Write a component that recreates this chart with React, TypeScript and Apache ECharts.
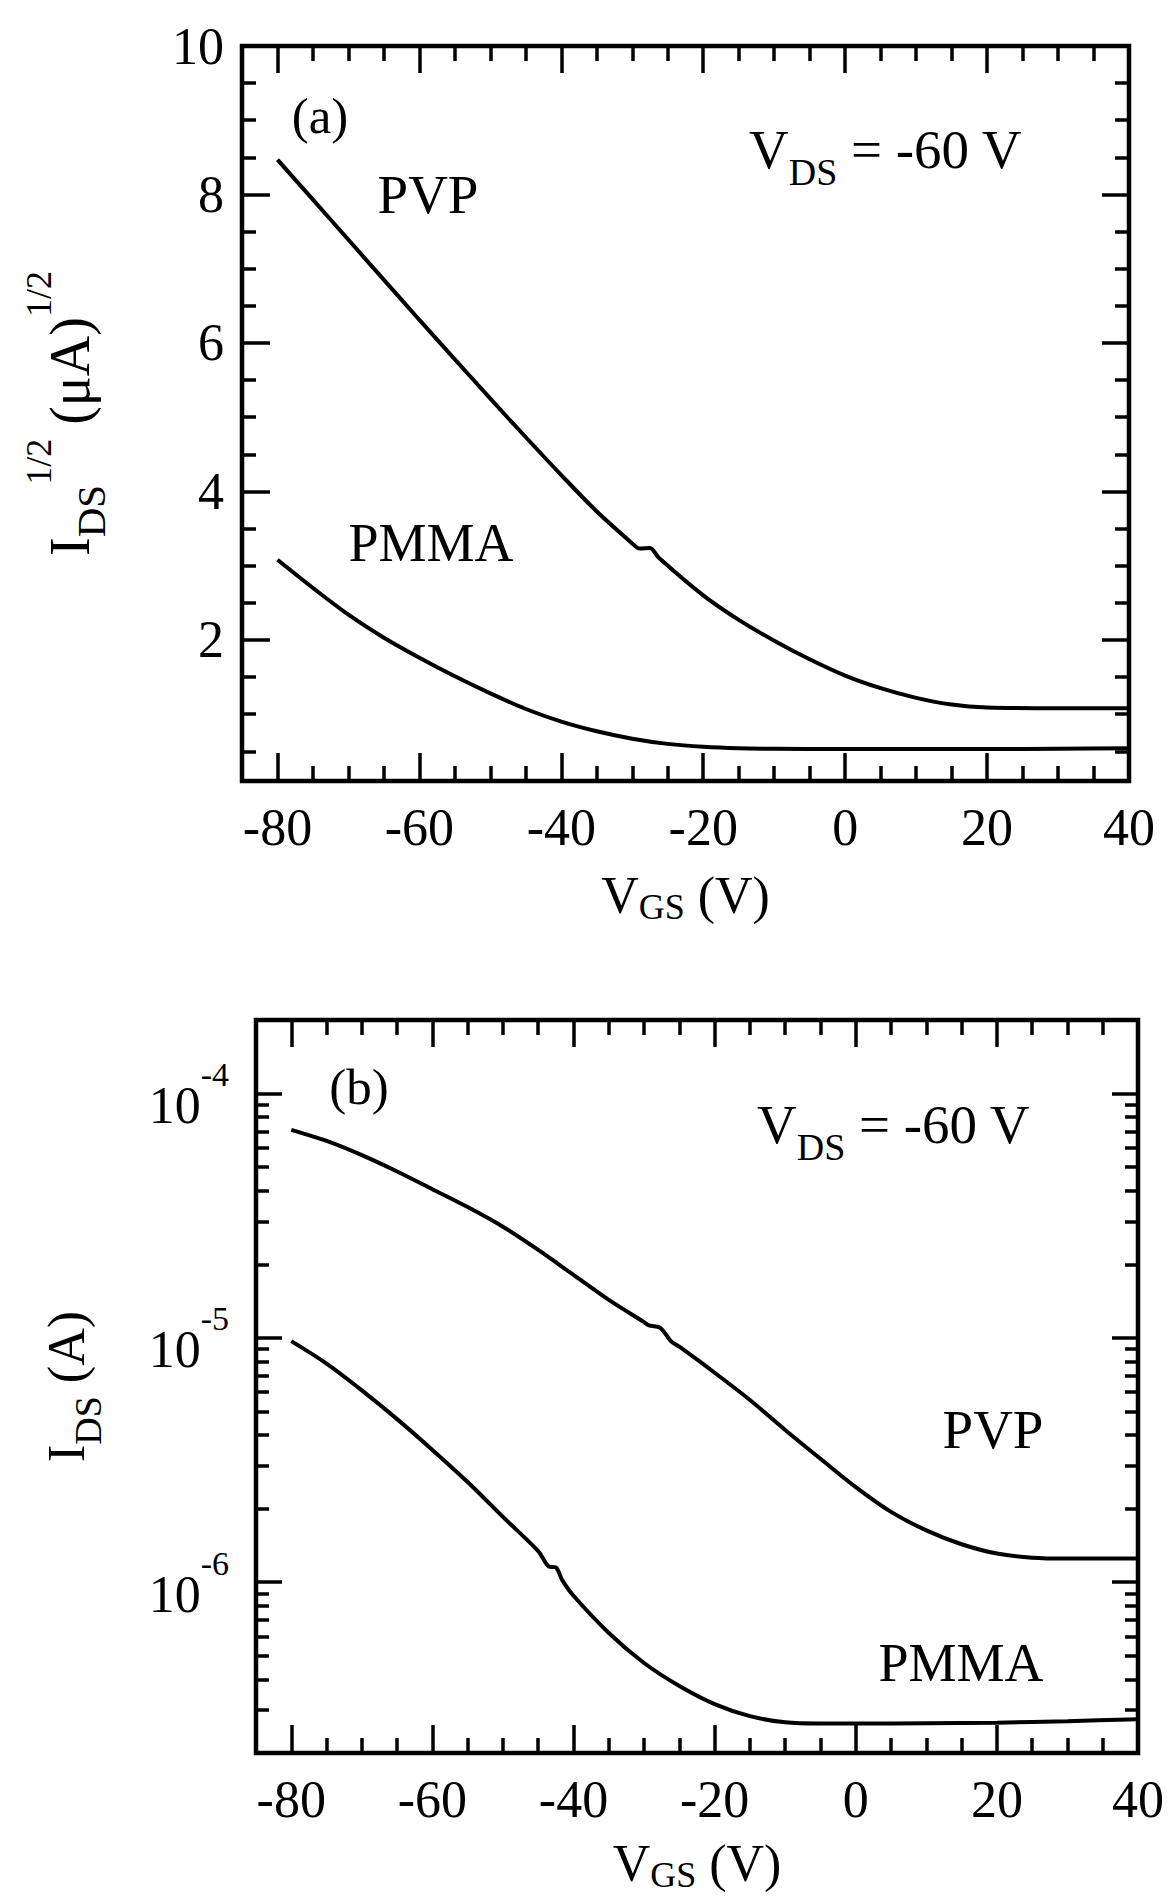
import React, { useEffect, useRef } from 'react';
import * as echarts from 'echarts';

const FONT = '"Liberation Serif", "Times New Roman", serif';

// ---------- Panel (a): I_DS^1/2 (uA^1/2) vs V_GS ----------
const pvpVgsA = [-80, -75, -70, -65, -60, -55, -50, -45, -40, -35, -30, -29, -27.5, -26.3, -20, -15, -10, -5, 0, 5, 10, 15, 20, 30, 40];
const pvpSqrtA = [8.47, 7.93, 7.39, 6.85, 6.31, 5.78, 5.25, 4.73, 4.22, 3.73, 3.3, 3.23, 3.24, 3.11, 2.6, 2.27, 1.99, 1.74, 1.52, 1.35, 1.22, 1.13, 1.09, 1.08, 1.08];
const pmmaVgsA = [-80, -75, -70, -65, -60, -55, -50, -45, -40, -35, -30, -25, -20, -15, -10, 0, 10, 20, 30, 40];
const pmmaSqrtA = [3.08, 2.7, 2.34, 2.03, 1.76, 1.51, 1.28, 1.07, 0.9, 0.77, 0.67, 0.6, 0.56, 0.54, 0.535, 0.53, 0.53, 0.53, 0.535, 0.54];

// ---------- Panel (b): I_DS (A) vs V_GS, log scale ----------
const pvpVgsB = [-80, -75, -70, -65, -60, -55, -50, -45, -40, -35, -30, -29.3, -27.7, -26.2, -25, -20, -15, -10, -5, 0, 5, 10, 15, 20, 25, 30, 40];
const pvpIdsB = [7.1e-5, 6.4e-5, 5.6e-5, 4.8e-5, 4.06e-5, 3.43e-5, 2.85e-5, 2.29e-5, 1.81e-5, 1.43e-5, 1.16e-5, 1.125e-5, 1.1e-5, 9.7e-6, 9.2e-6, 7.2e-6, 5.57e-6, 4.2e-6, 3.2e-6, 2.45e-6, 1.94e-6, 1.63e-6, 1.43e-6, 1.31e-6, 1.26e-6, 1.25e-6, 1.25e-6];
const pmmaVgsB = [-80, -75, -70, -65, -60, -55, -50, -45, -43.5, -42.5, -41.6, -40, -35, -30, -25, -20, -15, -10, -5, 0, 10, 20, 30, 40];
const pmmaIdsB = [9.7e-6, 7.85e-6, 6.1e-6, 4.65e-6, 3.48e-6, 2.57e-6, 1.85e-6, 1.34e-6, 1.16e-6, 1.15e-6, 1.02e-6, 8.8e-7, 6.2e-7, 4.67e-7, 3.76e-7, 3.17e-7, 2.83e-7, 2.67e-7, 2.64e-7, 2.64e-7, 2.65e-7, 2.66e-7, 2.7e-7, 2.75e-7];

// ---------- Ticks ----------
const xMajorTicks = [-80, -60, -40, -20, 0, 20, 40];
const xMinorTicks = [-75, -70, -65, -55, -50, -45, -35, -30, -25, -15, -10, -5, 5, 10, 15, 25, 30, 35];
const yMajorTicksA = [2, 4, 6, 8, 10];
const yMinorTicksA = [0.5, 1, 1.5, 2.5, 3, 3.5, 4.5, 5, 5.5, 6.5, 7, 7.5, 8.5, 9, 9.5];
const yMajorTicksB = [1e-6, 1e-5, 1e-4];
const yExponentsB = ['-6', '-5', '-4'];
const yMinorTicksB = [
  3e-7, 4e-7, 5e-7, 6e-7, 7e-7, 8e-7, 9e-7,
  2e-6, 3e-6, 4e-6, 5e-6, 6e-6, 7e-6, 8e-6, 9e-6,
  2e-5, 3e-5, 4e-5, 5e-5, 6e-5, 7e-5, 8e-5, 9e-5,
];

// rich token: font size f, box line height L, centre offset d from block centre, block height H
function tok(f: number, L: number, d: number, H: number) {
  return {
    fontSize: f,
    fontFamily: FONT,
    color: '#000',
    lineHeight: L,
    padding: [H / 2 + d - L / 2, 0, H / 2 - d - L / 2, 0],
  };
}

const xTitleRich = {
  v: tok(52, 30, 0, 48),
  sub: tok(36, 14, 12, 48),
};

const yTitleRichA = {
  v: tok(56, 30, 0, 90),
  sub: tok(41, 20, 21, 90),
  sup: tok(36, 20, -31, 90),
};

const yTitleRichB = {
  v: tok(52, 30, 0, 70),
  sub: tok(38, 20, 22, 70),
};

const logLabelRich = {
  b: tok(52, 30, 12, 70),
  s: tok(34, 20, -19, 70),
};

const annoRich = {
  m: tok(55, 30, 0, 70),
  ds: tok(38, 20, 23, 70),
};

const tickStyle = { color: '#000', width: 3.5 };

function xAxesFor(grid: number, nameGap: number) {
  const base: any = {
    gridIndex: grid,
    type: 'value',
    min: -85,
    max: 40,
    splitLine: { show: false },
    axisLine: { show: false, onZero: false },
  };
  return [
    {
      ...base,
      position: 'bottom',
      axisTick: { show: true, inside: true, length: 28, lineStyle: tickStyle, customValues: xMajorTicks },
      axisLabel: { show: true, customValues: xMajorTicks, fontSize: 52, lineHeight: 52, fontFamily: FONT, color: '#000', margin: 20 },
      name: '{v|V}{sub|GS}{v| (V)}',
      nameLocation: 'middle',
      nameGap,
      nameMoveOverlap: false,
      nameTextStyle: { rich: xTitleRich, align: 'center', verticalAlign: 'middle' },
    },
    {
      ...base,
      position: 'bottom',
      axisTick: { show: true, inside: true, length: 15, lineStyle: tickStyle, customValues: xMinorTicks },
      axisLabel: { show: false },
    },
    {
      ...base,
      position: 'top',
      axisTick: { show: true, inside: true, length: 27, lineStyle: tickStyle, customValues: xMajorTicks },
      axisLabel: { show: false },
    },
    {
      ...base,
      position: 'top',
      axisTick: { show: true, inside: true, length: 15, lineStyle: tickStyle, customValues: xMinorTicks },
      axisLabel: { show: false },
    },
  ];
}

const yAxesA: any[] = (() => {
  const base: any = {
    gridIndex: 0,
    type: 'value',
    min: 0.1,
    max: 10,
    splitLine: { show: false },
    axisLine: { show: false, onZero: false },
  };
  return [
    {
      ...base,
      position: 'left',
      axisTick: { show: true, inside: true, length: 28, lineStyle: tickStyle, customValues: yMajorTicksA },
      axisLabel: { show: true, customValues: yMajorTicksA, fontSize: 52, fontFamily: FONT, color: '#000', margin: 18 },
      name: '{v|I}{sub|DS}{sup|1/2}{v| (μA)}{sup|1/2}',
      nameLocation: 'middle',
      nameGap: 172,
      nameMoveOverlap: false,
      nameTextStyle: { rich: yTitleRichA, align: 'center', verticalAlign: 'middle' },
    },
    {
      ...base,
      position: 'left',
      axisTick: { show: true, inside: true, length: 14, lineStyle: tickStyle, customValues: yMinorTicksA },
      axisLabel: { show: false },
    },
    {
      ...base,
      position: 'right',
      axisTick: { show: true, inside: true, length: 27, lineStyle: tickStyle, customValues: yMajorTicksA },
      axisLabel: { show: false },
    },
    {
      ...base,
      position: 'right',
      axisTick: { show: true, inside: true, length: 14, lineStyle: tickStyle, customValues: yMinorTicksA },
      axisLabel: { show: false },
    },
  ];
})();

const yAxesB: any[] = (() => {
  const base: any = {
    gridIndex: 1,
    type: 'log',
    logBase: 10,
    min: 2e-7,
    max: 2e-4,
    splitLine: { show: false },
    axisLine: { show: false, onZero: false },
  };
  return [
    {
      ...base,
      position: 'left',
      axisTick: { show: true, inside: true, length: 26, lineStyle: tickStyle, customValues: yMajorTicksB },
      axisLabel: {
        show: true,
        customValues: yMajorTicksB,
        margin: 27,
        formatter: (v: number) => {
          const e = Math.round(Math.log10(v));
          const i = yMajorTicksB.findIndex((t) => Math.round(Math.log10(t)) === e);
          return i >= 0 ? `{b|10}{s|${yExponentsB[i]}}` : '';
        },
        rich: logLabelRich,
      },
      name: '{v|I}{sub|DS}{v| (A)}',
      nameLocation: 'middle',
      nameGap: 190,
      nameMoveOverlap: false,
      nameTextStyle: { rich: yTitleRichB, align: 'center', verticalAlign: 'middle' },
    },
    {
      ...base,
      position: 'left',
      axisTick: { show: true, inside: true, length: 13, lineStyle: tickStyle, customValues: yMinorTicksB },
      axisLabel: { show: false },
    },
    {
      ...base,
      position: 'right',
      axisTick: { show: true, inside: true, length: 26, lineStyle: tickStyle, customValues: yMajorTicksB },
      axisLabel: { show: false },
    },
    {
      ...base,
      position: 'right',
      axisTick: { show: true, inside: true, length: 13, lineStyle: tickStyle, customValues: yMinorTicksB },
      axisLabel: { show: false },
    },
  ];
})();

function zip(xs: number[], ys: number[]) {
  return xs.map((x, i) => [x, ys[i]]);
}

const lineSeries = (name: string, data: number[][], xi: number, yi: number) => ({
  name,
  type: 'line',
  xAxisIndex: xi,
  yAxisIndex: yi,
  data,
  symbol: 'none',
  smooth: 0.3,
  lineStyle: { color: '#000', width: 4 },
  silent: true,
});

function plainText(text: string, x: number, y: number, size: number, align = 'center') {
  return {
    type: 'text',
    x,
    y,
    silent: true,
    style: {
      text,
      fontSize: size,
      fontFamily: FONT,
      fill: '#000',
      align,
      verticalAlign: 'middle',
      textAlign: align,
      textVerticalAlign: 'middle',
    },
  };
}

function vdsText(x: number, y: number) {
  return {
    type: 'text',
    x,
    y,
    silent: true,
    style: {
      text: '{m|V}{ds|DS}{m| = -60 V}',
      rich: annoRich,
      fontFamily: FONT,
      fill: '#000',
      align: 'left',
      verticalAlign: 'middle',
      textAlign: 'left',
      textVerticalAlign: 'middle',
    },
  };
}

const gridBase = {
  show: true,
  borderColor: '#000',
  borderWidth: 4.5,
  backgroundColor: 'transparent',
  containLabel: false,
  outerBoundsMode: 'none',
};

const option: any = {
  animation: false,
  backgroundColor: '#fff',
  grid: [
    { ...gridBase, left: 242, top: 46, width: 887, height: 735 },
    { ...gridBase, left: 256, top: 1020, width: 882, height: 733 },
  ],
  xAxis: [...xAxesFor(0, 114), ...xAxesFor(1, 110)],
  yAxis: [...yAxesA, ...yAxesB],
  series: [
    lineSeries('PVP (a)', zip(pvpVgsA, pvpSqrtA), 0, 0),
    lineSeries('PMMA (a)', zip(pmmaVgsA, pmmaSqrtA), 0, 0),
    lineSeries('PVP (b)', zip(pvpVgsB, pvpIdsB), 4, 4),
    lineSeries('PMMA (b)', zip(pmmaVgsB, pmmaIdsB), 4, 4),
  ],
  graphic: {
    elements: [
      plainText('(a)', 320, 116, 51),
      plainText('PVP', 428, 194, 55),
      plainText('PMMA', 431, 543, 54),
      vdsText(749, 149),
      plainText('(b)', 359, 1087, 51),
      plainText('PVP', 993, 1429, 55),
      plainText('PMMA', 961, 1663, 54),
      vdsText(757, 1124),
    ],
  },
};

export default function App() {
  const ref = useRef<HTMLDivElement>(null);
  useEffect(() => {
    const chart = echarts.init(ref.current!, null, { renderer: 'svg' });
    chart.setOption(option);
    return () => chart.dispose();
  }, []);
  return (
    <div
      ref={ref}
      style={{ position: 'absolute', left: 0, top: 0, width: 1173, height: 1897, background: '#fff' }}
    />
  );
}
